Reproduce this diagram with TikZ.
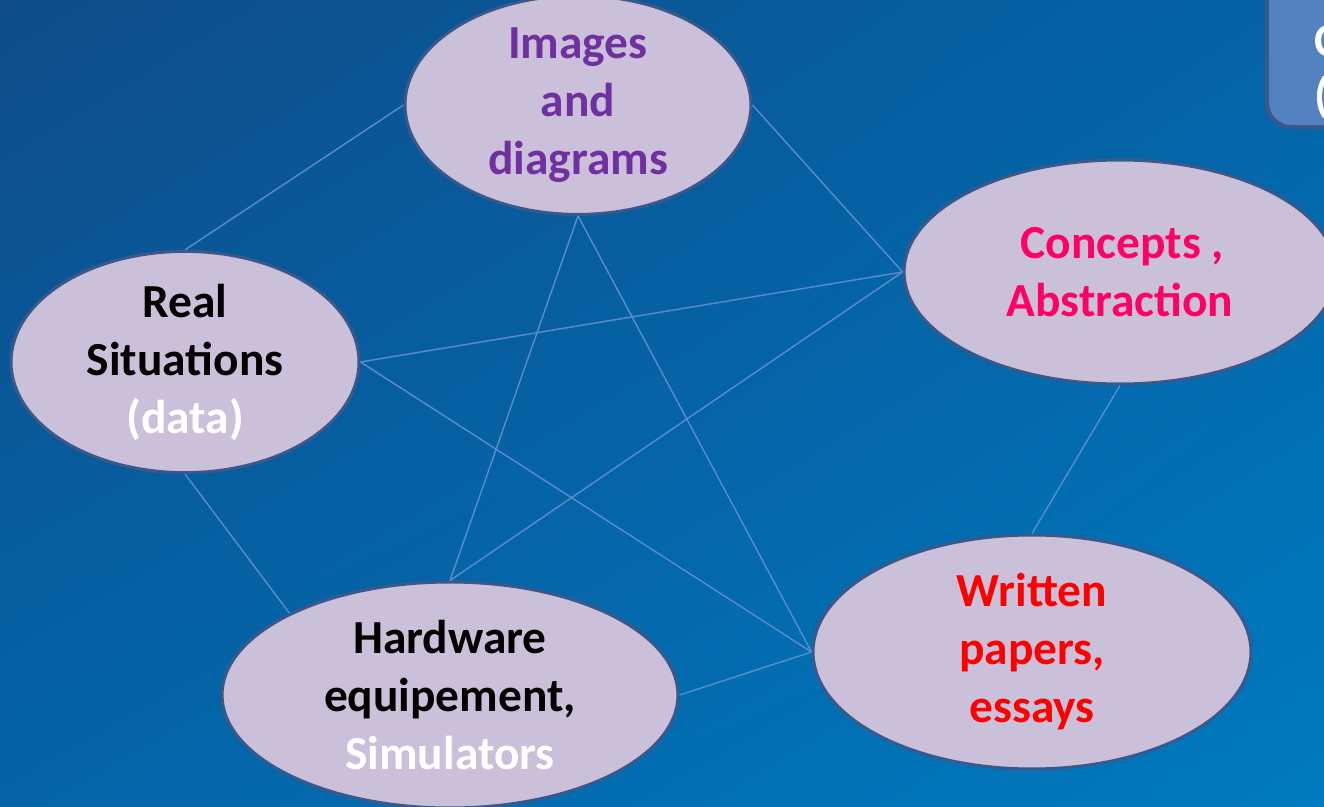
\documentclass[tikz,border=0pt]{standalone}
\usepackage{fontspec}
\setmainfont{Carlito}
\usetikzlibrary{shapes.geometric,shadings}

\definecolor{bgdark}{RGB}{14,76,138}
\definecolor{bgmid}{RGB}{4,100,166}
\definecolor{bglight}{RGB}{0,122,192}
\definecolor{bubble}{RGB}{203,192,218}
\definecolor{rim}{RGB}{58,88,138}
\definecolor{wire}{RGB}{92,140,204}
\definecolor{notefill}{RGB}{82,130,192}
\definecolor{imgpurple}{RGB}{112,48,160}
\definecolor{conpink}{RGB}{255,0,102}
\definecolor{wrired}{RGB}{255,0,0}

\begin{document}
\begin{tikzpicture}[x=0.02cm,y=-0.02cm,
  topic/.style={ellipse, draw=rim, line width=1.7pt, fill=bubble, inner sep=0pt,
    align=center, font=\fontsize{27}{33}\selectfont\bfseries},
  link/.style={wire, line width=0.8pt}]
\clip (0,0) rectangle (1324,807);
\shade [upper left=bgdark, upper right=bgmid, lower left=bgmid, lower right=bglight]
(0,0) rectangle (1324,807);

% box at the top right, cut by the edge
\draw [rounded corners=14pt, draw=rim, line width=2.2pt, fill=notefill]
(1267,-40) rectangle (1400,127);
\node [anchor=west, align=left, text=white, inner sep=0pt,
  font=\fontsize{27}{31}\selectfont\bfseries] (note) at (1314,72) {C\\(};

\node [topic, minimum width=6.92cm, minimum height=3.88cm, text=imgpurple]
(images) at (578,105) {Images\\and\\diagrams};
\node [topic, minimum width=6.96cm, minimum height=3.96cm]
(real) at (185,362) {Real\\Situations\\\textcolor{white}{(data)}};
\node [topic, minimum width=8.64cm, minimum height=4.48cm, text=conpink]
(concepts) at (1120,272) {\hspace*{0.1cm}Concepts ,\\Abstraction};
\node [topic, minimum width=8.76cm, minimum height=4.68cm, text=wrired]
(written) at (1032,652) {Written\\papers,\\essays};
\node [topic, minimum width=9.12cm, minimum height=4.52cm]
(hardware) at (450,695) {Hardware\\equipement,\\\textcolor{white}{Simulators}};

\draw [link] (images.west) -- (real.north);
\draw [link] (images.east) -- (concepts.west);
\draw [link] (images.south) -- (hardware.north);
\draw [link] (images.south) -- (written.west);
\draw [link] (real.east) -- (concepts.west);
\draw [link] (real.east) -- (written.west);
\draw [link] (real.south) -- (hardware.153);
\draw [link] (hardware.north) -- (concepts.west);
\draw [link] (hardware.east) -- (written.west);
\draw [link] (concepts.south) -- (written.north);

\end{tikzpicture}
\end{document}
